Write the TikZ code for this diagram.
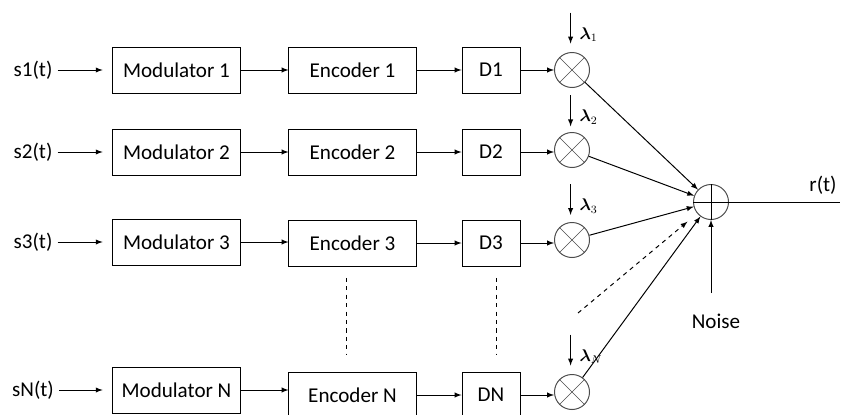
\documentclass[tikz,border=0pt]{standalone}
\usepackage{fontspec}
\setmainfont{Carlito}
\usepackage{amsmath}
\usepackage{amssymb}
\usetikzlibrary{shapes,arrows,positioning,calc}

\tikzset{
  block/.style={draw, rectangle, minimum height=1.15cm, inner sep=0pt},
  modbox/.style={block, minimum width=3.175cm},
  encbox/.style={block, minimum width=3.175cm},
  delaybox/.style={block, minimum width=1.45cm},
  mult/.style={draw=black!70, circle, minimum size=0.875cm, inner sep=0pt},
  lam/.style={font=\fontsize{12}{14}\selectfont, inner sep=1pt, xshift=5pt}
}

\begin{document}
\begin{tikzpicture}[x=0.025cm, y=-0.025cm, >=latex, line width=0.7pt,
    font=\fontsize{15}{18}\selectfont]
    \useasboundingbox (0,0) rectangle (845,414);

    % Inputs
    \node (in1) at (33,70) {s1(t)};
    \node (in2) at (33,152) {s2(t)};
    \node (in3) at (33,242) {s3(t)};
    \node (inN) at (33,390) {sN(t)};

    % Modulators
    \node[modbox] (mod1) at (176.5,70) {Modulator 1};
    \node[modbox] (mod2) at (176.5,152) {Modulator 2};
    \node[modbox] (mod3) at (176.5,242) {Modulator 3};
    \node[modbox] (modN) at (176.5,390) {Modulator N};

    % Encoders
    \node[encbox] (enc1) at (352.5,70) {Encoder 1};
    \node[encbox] (enc2) at (352.5,152) {Encoder 2};
    \node[encbox] (enc3) at (352.5,243) {Encoder 3};
    \node[encbox] (encN) at (352.5,395) {Encoder N};

    % Delays
    \node[delaybox] (d1) at (491,70) {D1};
    \node[delaybox] (d2) at (491,152) {D2};
    \node[delaybox] (d3) at (491,243) {D3};
    \node[delaybox] (dN) at (491,395) {DN};

    % Multipliers
    \node[mult] (m1) at (572,70) {};
    \node[mult] (m2) at (572,150) {};
    \node[mult] (m3) at (572,240) {};
    \node[mult] (mN) at (572,392) {};
    \foreach \m in {m1,m2,m3,mN} {
        \draw[black!70, line width=0.4pt] (\m.north west) -- (\m.south east);
        \draw[black!70, line width=0.4pt] (\m.north east) -- (\m.south west);
    }

    % Adder
    \node[mult] (sum) at (711,202) {};
    \draw (sum.north) -- (sum.south);
    \draw (sum.west) -- (sum.east);

    % Row connections
    \draw[->] (in1) -- ([xshift=-7pt]mod1.west);
    \draw[->] (in2) -- ([xshift=-7pt]mod2.west);
    \draw[->] (in3) -- ([xshift=-7pt]mod3.west);
    \draw[->] (inN) -- ([xshift=-7pt]modN.west);

    \draw[->] (mod1) -- (enc1);
    \draw[->] (mod2) -- (enc2);
    \draw[->] (mod3.east) -- (mod3.east -| enc3.west);
    \draw[->] (modN.east) -- (modN.east -| encN.west);

    \draw[->] (enc1) -- (d1);
    \draw[->] (enc2) -- (d2);
    \draw[->] (enc3) -- (d3);
    \draw[->] (encN) -- (dN);

    \draw[->] (d1) -- (m1);
    \draw[->] (d2.east) -- (d2.east -| m2.west);
    \draw[->] (d3.east) -- (d3.east -| m3.west);
    \draw[->] (dN.east) -- (dN.east -| mN.west);

    % Weights
    \coordinate (t1) at ([xshift=-1pt,yshift=6pt]m1.north);
    \coordinate (t2) at ([xshift=-1pt,yshift=4pt]m2.north);
    \coordinate (t3) at ([xshift=-1pt,yshift=5pt]m3.north);
    \coordinate (tN) at ([xshift=-1pt,yshift=6pt]mN.north);
    \draw[->] ([yshift=22pt]t1) -- (t1) node[lam, above right] (l1) {$\boldsymbol{\lambda}_1$};
    \draw[->] ([yshift=22pt]t2) -- (t2) node[lam, above right] (l2) {$\boldsymbol{\lambda}_2$};
    \draw[->] ([yshift=22pt]t3) -- (t3) node[lam, above right] (l3) {$\boldsymbol{\lambda}_3$};
    \draw[->] ([yshift=22pt]tN) -- (tN) node[lam, above right] (lN) {$\boldsymbol{\lambda}_N$};

    % Into the adder
    \draw[->] (m1) -- (sum);
    \draw[->] (m2) -- (sum);
    \draw[->] (m3) -- (sum);
    \draw[->] (mN) -- (sum);
    \coordinate (dots) at (578,313);
    \draw[->, dashed, shorten >=9pt] (dots) -- (sum);

    % Omitted rows
    \draw[dashed, shorten <=8pt, shorten >=12pt] ([xshift=-4pt]enc3.south) -- ([xshift=-4pt]encN.north);
    \draw[dashed, shorten <=8pt, shorten >=12pt] ([xshift=4pt]d3.south) -- ([xshift=4pt]dN.north);

    % Noise and output
    \node (noise) at (716,321) {Noise};
    \coordinate (noisein) at (711,293);
    \draw[->] (noisein) -- (sum);
    \coordinate (out) at (840,202);
    \draw (sum) -- (out);
    \node (rt) at (823,185) {r(t)};
\end{tikzpicture}
\end{document}
